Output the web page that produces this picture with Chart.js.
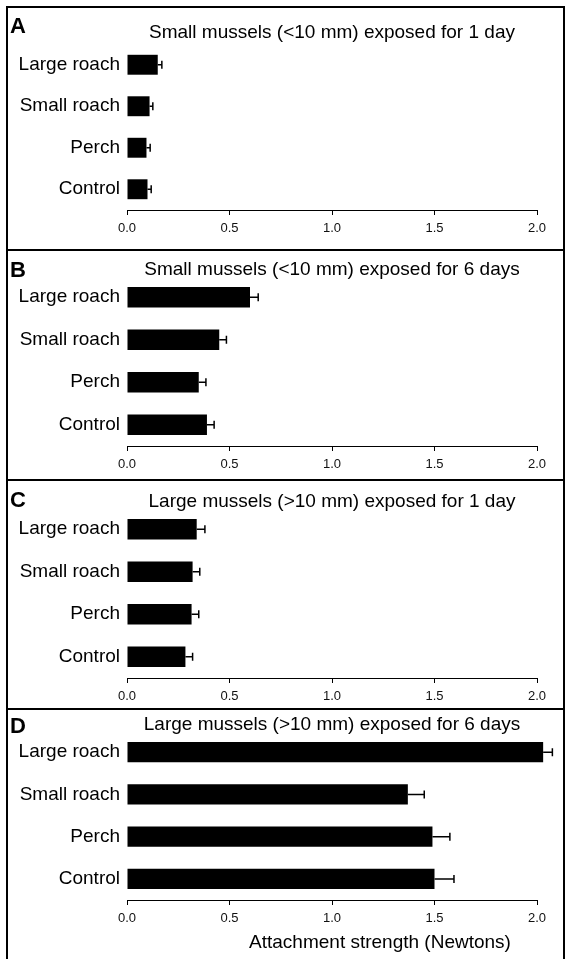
<!DOCTYPE html>
<html>
<head>
<meta charset="utf-8">
<script src="https://cdn.jsdelivr.net/npm/chart.js@4.4.1/dist/chart.umd.min.js"></script>
<style>
  html, body { margin: 0; padding: 0; background: #fff; }
  body { width: 565px; height: 959px; position: relative; overflow: hidden; }
  .panel { position: absolute; left: 6px; width: 559px; box-sizing: border-box; border: 2px solid #000; }
  canvas { position: absolute; left: 8px; }
</style>
</head>
<body>
<div class="panel" style="top:6px;height:245px"></div>
<div class="panel" style="top:249px;height:232px"></div>
<div class="panel" style="top:479px;height:231px"></div>
<div class="panel" style="top:708px;height:260px;border-bottom:none"></div>
<canvas id="chartA" width="555" height="241" style="top:8px"></canvas>
<canvas id="chartB" width="555" height="228" style="top:251px"></canvas>
<canvas id="chartC" width="555" height="227" style="top:481px"></canvas>
<canvas id="chartD" width="555" height="249" style="top:710px"></canvas>
<script>
// Данные
const categories = ['Large roach', 'Small roach', 'Perch', 'Control'];
const xTicks = [0, 0.5, 1.0, 1.5, 2.0];

const meanA = [0.15, 0.11, 0.095, 0.10];
const errA = [0.02, 0.016, 0.018, 0.018];
const meanB = [0.60, 0.45, 0.35, 0.39];
const errB = [0.04, 0.035, 0.035, 0.035];
const meanC = [0.34, 0.32, 0.315, 0.285];
const errC = [0.04, 0.035, 0.035, 0.035];
const meanD = [2.03, 1.37, 1.49, 1.50];
const errD = [0.045, 0.08, 0.085, 0.095];

const FONT = '"Liberation Sans", Arial, sans-serif';
Chart.defaults.font.family = FONT;
Chart.defaults.color = '#000';

// Планки погрешностей
const errorBars = {
    id: 'errorBars',
    afterDatasetsDraw(chart, args, opts) {
        const ctx = chart.ctx;
        const x = chart.scales.x;
        const values = chart.data.datasets[0].data;
        ctx.save();
        ctx.strokeStyle = '#000';
        ctx.lineWidth = 1.5;
        chart.getDatasetMeta(0).data.forEach((bar, i) => {
            const x0 = x.getPixelForValue(values[i]);
            const x1 = x.getPixelForValue(values[i] + opts.errors[i]);
            ctx.beginPath();
            ctx.moveTo(x0, bar.y);
            ctx.lineTo(x1, bar.y);
            ctx.moveTo(x1, bar.y - 4);
            ctx.lineTo(x1, bar.y + 4);
            ctx.stroke();
        });
        ctx.restore();
    }
};

// Буква панели, заголовок и подпись оси
const panelText = {
    id: 'panelText',
    afterDraw(chart, args, opts) {
        const ctx = chart.ctx;
        const area = chart.chartArea;
        ctx.save();
        ctx.fillStyle = '#000';
        ctx.textBaseline = 'alphabetic';
        ctx.font = 'bold 22px ' + FONT;
        ctx.textAlign = 'left';
        ctx.fillText(opts.letter, 2, opts.letterY);
        ctx.font = '19px ' + FONT;
        ctx.textAlign = 'center';
        ctx.fillText(opts.title, (area.left + area.right) / 2, opts.titleY);
        if (opts.xTitle) {
            ctx.fillText(opts.xTitle, 372, opts.xTitleY);
        }
        ctx.restore();
    }
};

function makeChart(id, values, errors, p) {
    new Chart(document.getElementById(id), {
        type: 'bar',
        data: {
            labels: categories,
            datasets: [{
                data: values,
                backgroundColor: '#000',
                borderWidth: 0,
                categoryPercentage: 0.48,
                barPercentage: 1,
                clip: false
            }]
        },
        options: {
            indexAxis: 'y',
            responsive: false,
            animation: false,
            layout: { padding: { top: p.top, right: 26, left: 0, bottom: 0 } },
            scales: {
                x: {
                    min: 0,
                    max: 2,
                    afterBuildTicks: s => { s.ticks = xTicks.map(v => ({ value: v })); },
                    ticks: {
                        color: '#111',
                        font: { size: 13 },
                        padding: 6,
                        maxRotation: 0,
                        callback: v => Number(v).toFixed(1)
                    },
                    grid: { drawOnChartArea: false, color: '#000', tickLength: 5 },
                    border: { color: '#000', width: 1 },
                    afterFit: s => { s.height = p.xHeight; }
                },
                y: {
                    grid: { display: false, drawTicks: false },
                    border: { display: false },
                    ticks: { color: '#000', font: { size: 19 }, padding: 7 },
                    afterFit: s => { s.width = 119; }
                }
            },
            plugins: {
                legend: { display: false },
                tooltip: { enabled: false },
                errorBars: { errors: errors },
                panelText: {
                    letter: p.letter,
                    letterY: p.letterY,
                    title: p.title,
                    titleY: p.titleY,
                    xTitle: p.xTitle,
                    xTitleY: p.xTitleY
                }
            }
        },
        plugins: [errorBars, panelText]
    });
}

makeChart('chartA', meanA, errA, {
    letter: 'A', letterY: 25, title: 'Small mussels (<10 mm) exposed for 1 day', titleY: 30,
    top: 36, xHeight: 39
});
makeChart('chartB', meanB, errB, {
    letter: 'B', letterY: 26, title: 'Small mussels (<10 mm) exposed for 6 days', titleY: 24,
    top: 25, xHeight: 33
});
makeChart('chartC', meanC, errC, {
    letter: 'C', letterY: 26, title: 'Large mussels (>10 mm) exposed for 1 day', titleY: 26,
    top: 27, xHeight: 30
});
makeChart('chartD', meanD, errD, {
    letter: 'D', letterY: 23, title: 'Large mussels (>10 mm) exposed for 6 days', titleY: 20,
    top: 21, xHeight: 59,
    xTitle: 'Attachment strength (Newtons)', xTitleY: 238
});
</script>
</body>
</html>
